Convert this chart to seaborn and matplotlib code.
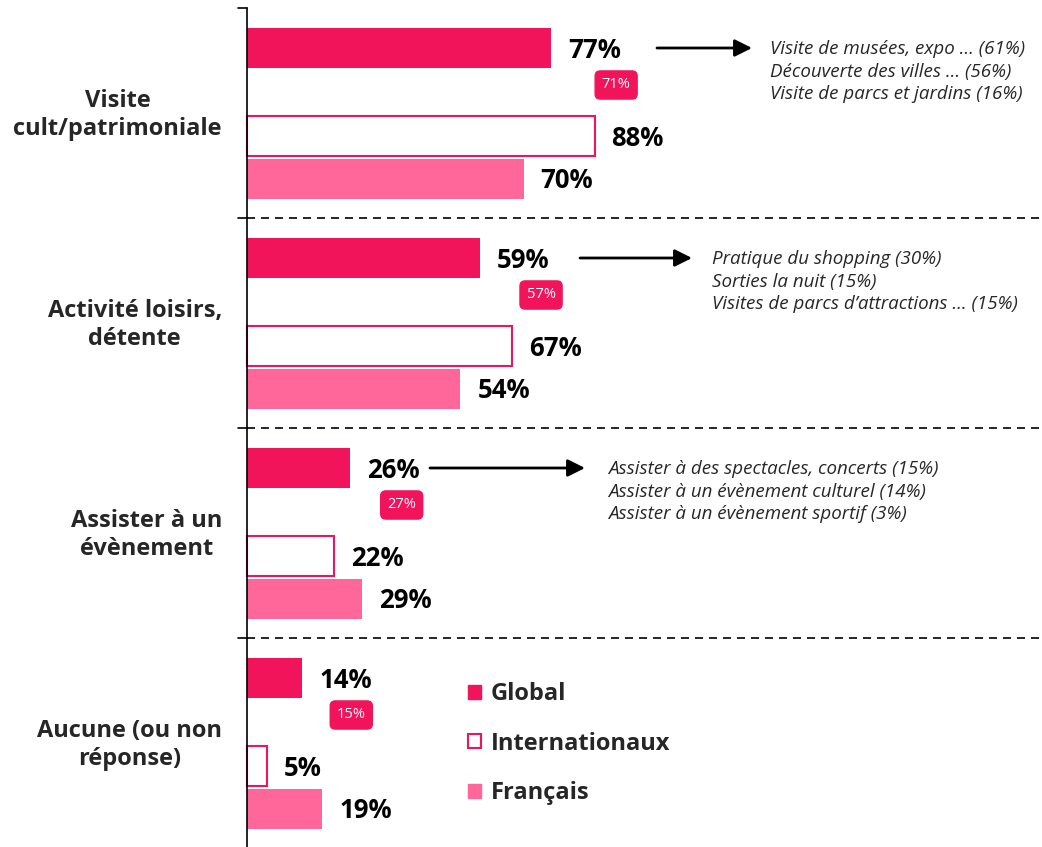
import pandas as pd
import matplotlib.pyplot as plt
import seaborn as sns
from matplotlib.patches import Patch

sns.set_style("white")
plt.rcParams["font.family"] = ["Open Sans", "DejaVu Sans"]

# data
categories = ["Visite\ncult/patrimoniale", "Activité loisirs,\ndétente",
              "Assister à un\névènement", "Aucune (ou non\nréponse)"]
global_vals = [77, 59, 26, 14]
intl_vals = [88, 67, 22, 5]
fr_vals = [70, 54, 29, 19]
badge_vals = [71, 57, 27, 15]
details = [
    ["Visite de musées, expo ... (61%)", "Découverte des villes … (56%)",
     "Visite de parcs et jardins (16%)"],
    ["Pratique du shopping (30%)", "Sorties la nuit (15%)",
     "Visites de parcs d’attractions … (15%)"],
    ["Assister à des spectacles, concerts (15%)",
     "Assister à un évènement culturel (14%)",
     "Assister à un évènement sportif (3%)"],
    [],
]
series = ["Global", "Internationaux", "Français"]

# layout (pixel units on y, % on x)
PINK = "#F2145A"
LIGHT = "#FF6699"
PX = 3.95              # pixels per %
X0 = 247               # axis position in pixels
STEP = 210
offsets = {"Global": 48, "Internationaux": 136, "Français": 179}
badge_dx = [65, 61, 52, 49]
arrow_x = [(657, 752), (580, 692), (430, 585), None]
detail_x = [770, 712, 608, None]

rows = []
for g in range(len(categories)):
    for s, vals in zip(series, [global_vals, intl_vals, fr_vals]):
        rows.append({"serie": s, "val": vals[g], "pos": offsets[s] + STEP * g})
df = pd.DataFrame(rows)

fig = plt.figure(figsize=(10.42, 8.47), dpi=100)
ax = fig.add_axes([0, 0, 1, 1])

styles = {
    "Global": dict(color=PINK, edgecolor=PINK, linewidth=0),
    "Internationaux": dict(color="white", edgecolor=PINK, linewidth=1.5),
    "Français": dict(color=LIGHT, edgecolor=LIGHT, linewidth=0),
}
for s in series:
    sns.barplot(data=df[df["serie"] == s], x="val", y="pos", orient="y",
                native_scale=True, width=40 / STEP, errorbar=None,
                saturation=1, ax=ax, **styles[s])

ax.set_xlim(-X0 / PX, (1042 - X0) / PX)
ax.set_ylim(847, 0)
ax.axis("off")

# axis line, top tick and dashed separators
tick = -9 / PX
ax.plot([0, 0], [8, 847], color="black", lw=1.2, clip_on=False)
ax.plot([tick, 0], [8, 8], color="black", lw=1.2)
for g in range(1, len(categories)):
    y = STEP * g + 8
    ax.plot([tick, 0], [y, y], color="black", lw=1.2)
    ax.plot([0, (1040 - X0) / PX], [y, y], color="black", lw=1.2,
            ls=(0, (4.8, 3.6)))

# value labels
for _, r in df.iterrows():
    ax.text(r["val"] + 17 / PX, r["pos"] + 2, f"{r['val']}%", ha="left",
            va="center", fontsize=18.5, fontweight="bold", color="black")

for g, cat in enumerate(categories):
    gy = offsets["Global"] + STEP * g
    # category label
    ax.text((222 - X0) / PX, 115 + STEP * g, cat, ha="right", va="center",
            multialignment="center", fontsize=17, fontweight="bold",
            linespacing=1.25)
    # badge
    ax.text(global_vals[g] + badge_dx[g] / PX, gy + 37, f"{badge_vals[g]}%",
            ha="center", va="center", fontsize=10.5, color="white",
            bbox=dict(boxstyle="round,pad=0.45,rounding_size=0.35",
                      fc=PINK, ec=PINK))
    # arrow + details
    if arrow_x[g] is not None:
        x1, x2 = arrow_x[g]
        ax.annotate("", xy=((x2 - X0) / PX, gy), xytext=((x1 - X0) / PX, gy),
                    arrowprops=dict(arrowstyle="-|>", color="black", lw=2,
                                    mutation_scale=26, shrinkA=0, shrinkB=0))
        for i, line in enumerate(details[g]):
            ax.text((detail_x[g] - X0) / PX, gy + 1 + 22.5 * i, line,
                    ha="left", va="center", fontsize=13.5, style="italic")

handles = [
    Patch(facecolor=PINK, edgecolor=PINK, label="Global"),
    Patch(facecolor="white", edgecolor=PINK, linewidth=1.5, label="Internationaux"),
    Patch(facecolor=LIGHT, edgecolor=LIGHT, label="Français"),
]
leg = fig.legend(handles=handles, loc="upper left",
                 bbox_to_anchor=(468 / 1042, 1 - 682 / 847), frameon=False,
                 prop=dict(size=17, weight="bold"), handlelength=0.55,
                 handleheight=0.55, handletextpad=0.4, labelspacing=1.08,
                 borderpad=0, borderaxespad=0)

fig.savefig("out.png", dpi=100)
